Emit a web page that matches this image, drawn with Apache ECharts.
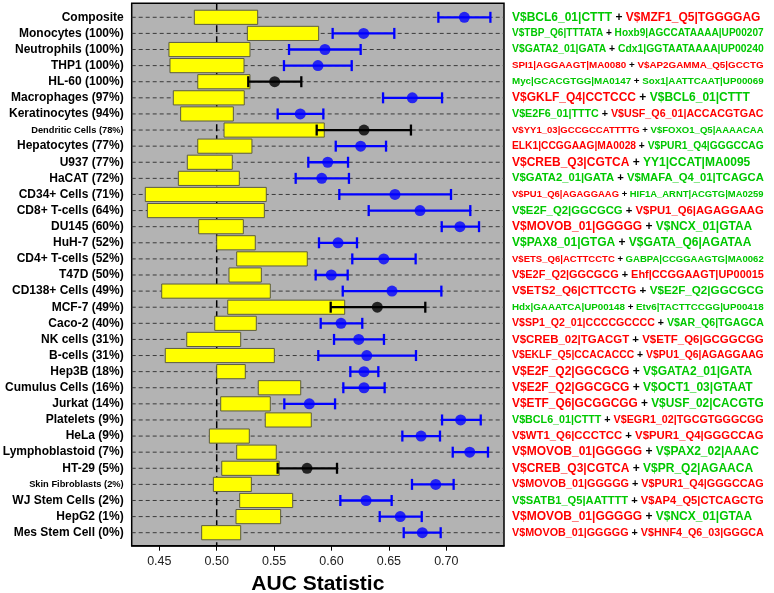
<!DOCTYPE html>
<html>
<head>
<meta charset="utf-8">
<script src="https://cdn.jsdelivr.net/npm/echarts@6/dist/echarts.min.js"></script>
<style>
html,body{margin:0;padding:0;background:#fff;}
#chart{width:774px;height:593px;}
</style>
</head>
<body>
<div id="chart"></div>
<script>
// ---------------- data ----------------
var categories = ["Composite","Monocytes (100%)","Neutrophils (100%)","THP1 (100%)","HL-60 (100%)","Macrophages (97%)","Keratinocytes (94%)","Dendritic Cells (78%)","Hepatocytes (77%)","U937 (77%)","HaCAT (72%)","CD34+ Cells (71%)","CD8+ T-cells (64%)","DU145 (60%)","HuH-7 (52%)","CD4+ T-cells (52%)","T47D (50%)","CD138+ Cells (49%)","MCF-7 (49%)","Caco-2 (40%)","NK cells (31%)","B-cells (31%)","Hep3B (18%)","Cumulus Cells (16%)","Jurkat (14%)","Platelets (9%)","HeLa (9%)","Lymphoblastoid (7%)","HT-29 (5%)","Skin Fibroblasts (2%)","WJ Stem Cells (2%)","HepG2 (1%)","Mes Stem Cell (0%)"];

var boxLow  = [0.4805,0.5267,0.4584,0.4593,0.4835,0.4622,0.4686,0.5064,0.4835,0.4744,0.4666,0.4378,0.4396,0.4843,0.5000,0.5174,0.5107,0.4521,0.5096,0.4983,0.4739,0.4552,0.5000,0.5362,0.5035,0.5423,0.4936,0.5174,0.5044,0.4971,0.5200,0.5168,0.4869];
var boxHigh = [0.5357,0.5888,0.5290,0.5238,0.5290,0.5240,0.5145,0.5937,0.5307,0.5136,0.5197,0.5432,0.5415,0.5232,0.5336,0.5789,0.5389,0.5467,0.6115,0.5345,0.5209,0.5502,0.5249,0.5732,0.5467,0.5824,0.5284,0.5519,0.5545,0.5302,0.5662,0.5557,0.5209];

var aucMean = [0.7157,0.6280,0.5943,0.5882,0.5505,0.6704,0.5728,0.6283,0.6254,0.5967,0.5915,0.6553,0.6771,0.7119,0.6057,0.6455,0.5998,0.6527,0.6399,0.6083,0.6237,0.6307,0.6283,0.6283,0.5807,0.7125,0.6780,0.7204,0.5787,0.6908,0.6301,0.6599,0.6791];
var aucLow  = [0.6931,0.6010,0.5630,0.5586,0.5275,0.6449,0.5531,0.5871,0.6037,0.5798,0.5688,0.6068,0.6324,0.6960,0.5891,0.6181,0.5862,0.6098,0.5993,0.5906,0.6022,0.5885,0.6164,0.6103,0.5589,0.6963,0.6617,0.7056,0.5531,0.6701,0.6077,0.6420,0.6629];
var aucHigh = [0.7384,0.6547,0.6254,0.6176,0.5737,0.6963,0.5929,0.6692,0.6475,0.6144,0.6152,0.7041,0.7209,0.7285,0.6222,0.6733,0.6141,0.6957,0.6817,0.6268,0.6457,0.6736,0.6408,0.6463,0.6031,0.7300,0.6945,0.7363,0.6048,0.7064,0.6524,0.6786,0.6951];

// 1 = interval overlaps the random range (drawn black), 0 = separated (blue)
var overlapFlag = [0,0,0,0,1,0,0,1,0,0,0,0,0,0,0,0,0,0,1,0,0,0,0,0,0,0,0,0,1,0,0,0,0];

var motifA = ["V$BCL6_01|CTTT","V$TBP_Q6|TTTATA","V$GATA2_01|GATA","SPI1|AGGAAGT|MA0080","Myc|GCACGTGG|MA0147","V$GKLF_Q4|CCTCCC","V$E2F6_01|TTTC","V$YY1_03|GCCGCCATTTTG","ELK1|CCGGAAG|MA0028","V$CREB_Q3|CGTCA","V$GATA2_01|GATA","V$PU1_Q6|AGAGGAAG","V$E2F_Q2|GGCGCG","V$MOVOB_01|GGGGG","V$PAX8_01|GTGA","V$ETS_Q6|ACTTCCTC","V$E2F_Q2|GGCGCG","V$ETS2_Q6|CTTCCTG","Hdx|GAAATCA|UP00148","V$SP1_Q2_01|CCCCGCCCC","V$CREB_02|TGACGT","V$EKLF_Q5|CCACACCC","V$E2F_Q2|GGCGCG","V$E2F_Q2|GGCGCG","V$ETF_Q6|GCGGCGG","V$BCL6_01|CTTT","V$WT1_Q6|CCCTCC","V$MOVOB_01|GGGGG","V$CREB_Q3|CGTCA","V$MOVOB_01|GGGGG","V$SATB1_Q5|AATTTT","V$MOVOB_01|GGGGG","V$MOVOB_01|GGGGG"];
var motifAClass = ["g","g","g","r","g","r","g","r","r","r","g","r","g","r","g","r","r","r","g","r","r","r","r","r","r","g","r","r","r","r","g","r","r"];
var motifB = ["V$MZF1_Q5|TGGGGAG","Hoxb9|AGCCATAAAA|UP00207","Cdx1|GGTAATAAAA|UP00240","V$AP2GAMMA_Q5|GCCTG","Sox1|AATTCAAT|UP00069","V$BCL6_01|CTTT","V$USF_Q6_01|ACCACGTGAC","V$FOXO1_Q5|AAAACAA","V$PUR1_Q4|GGGCCAG","YY1|CCAT|MA0095","V$MAFA_Q4_01|TCAGCA","HIF1A_ARNT|ACGTG|MA0259","V$PU1_Q6|AGAGGAAG","V$NCX_01|GTAA","V$GATA_Q6|AGATAA","GABPA|CCGGAAGTG|MA0062","Ehf|CCGGAAGT|UP00015","V$E2F_Q2|GGCGCG","Etv6|TACTTCCGG|UP00418","V$AR_Q6|TGAGCA","V$ETF_Q6|GCGGCGG","V$PU1_Q6|AGAGGAAG","V$GATA2_01|GATA","V$OCT1_03|GTAAT","V$USF_02|CACGTG","V$EGR1_02|TGCGTGGGCGG","V$PUR1_Q4|GGGCCAG","V$PAX2_02|AAAC","V$PR_Q2|AGAACA","V$PUR1_Q4|GGGCCAG","V$AP4_Q5|CTCAGCTG","V$NCX_01|GTAA","V$HNF4_Q6_03|GGGCA"];
var motifBClass = ["r","g","g","r","g","g","r","g","g","g","g","g","r","g","g","g","r","g","g","g","r","r","g","g","g","r","r","g","g","r","r","g","r"];

var xTicks = [0.45,0.50,0.55,0.60,0.65,0.70];
var refAUC = 0.5;
var xMin = 0.42596, xMax = 0.75026;
var yMin = -0.869, yMax = 32.807;

// ---------------- styling ----------------
var FONT = '"Liberation Sans", Arial, Helvetica, sans-serif';
var GREEN = '#00c800', RED = '#ff0000', BLUE = '#0000ff';
var classColor = {g: GREEN, r: RED};

var measureCtx = document.createElement('canvas').getContext('2d');
function textEm(s) {
  measureCtx.font = 'bold 100px ' + FONT;
  return measureCtx.measureText(s).width / 100;
}

var rows = categories.map(function (c, i) { return i; });

var chart = echarts.init(document.getElementById('chart'), null, {renderer: 'canvas'});

var option = {
  backgroundColor: '#ffffff',
  animation: false,
  grid: {
    left: 131.7, top: 3.3, width: 372.3, height: 542.4,
    show: true, backgroundColor: '#b3b3b3', borderColor: '#000', borderWidth: 1.5,
    containLabel: false, outerBoundsMode: 'none'
  },
  xAxis: {
    type: 'value', min: xMin, max: xMax,
    axisLine: {show: true, onZero: false, lineStyle: {color: '#000', width: 1.5}},
    axisTick: {show: true, customValues: xTicks, length: 5, lineStyle: {color: '#000', width: 1}},
    axisLabel: {
      customValues: xTicks, margin: 9.5, color: '#222', fontSize: 12.5, fontFamily: FONT,
      formatter: function (v) { return v.toFixed(2); }
    },
    splitLine: {show: false},
    name: 'AUC Statistic', nameLocation: 'middle', nameGap: 28,
    nameTextStyle: {fontSize: 21, fontWeight: 'bold', color: '#000', fontFamily: FONT}
  },
  yAxis: {
    type: 'value', inverse: true, min: yMin, max: yMax,
    axisLine: {show: false}, axisTick: {show: false}, splitLine: {show: false},
    axisLabel: {
      customValues: rows, margin: 8, color: '#000', fontFamily: FONT,
      formatter: function (v) {
        var name = categories[Math.round(v)];
        return (name.length > 20 ? '{s|' : '{b|') + name + '}';
      },
      rich: {
        b: {fontSize: 12, fontWeight: 'bold', color: '#000', fontFamily: FONT},
        s: {fontSize: 9.3, fontWeight: 'bold', color: '#000', fontFamily: FONT}
      }
    }
  },
  series: [
    { // horizontal dashed guide lines
      type: 'custom', z: 1, silent: true, clip: false,
      data: rows.map(function (i) { return [i]; }),
      encode: {y: 0},
      renderItem: function (params, api) {
        var i = api.value(0);
        var p0 = api.coord([xMin, i]), p1 = api.coord([xMax, i]);
        return {type: 'line', shape: {x1: p0[0], y1: p0[1], x2: p1[0], y2: p1[1]},
          style: {stroke: '#3a3a3a', lineWidth: 1, lineDash: [4, 3]}};
      }
    },
    { // reference line at AUC 0.5
      type: 'custom', z: 2, silent: true, clip: false,
      data: [[refAUC]],
      encode: {x: 0},
      renderItem: function (params, api) {
        var v = api.value(0);
        var p0 = api.coord([v, yMin]), p1 = api.coord([v, yMax]);
        return {type: 'line', shape: {x1: p0[0], y1: p0[1], x2: p1[0], y2: p1[1]},
          style: {stroke: '#000', lineWidth: 1.5, lineDash: [7, 4]}};
      }
    },
    { // yellow range boxes
      type: 'custom', z: 3, silent: true,
      data: rows.map(function (i) { return [boxLow[i], boxHigh[i], i]; }),
      encode: {x: [0, 1], y: 2},
      renderItem: function (params, api) {
        var lo = api.coord([api.value(0), api.value(2)]);
        var hi = api.coord([api.value(1), api.value(2)]);
        var h = api.size([0, 1])[1] * 0.88;
        return {type: 'rect', shape: {x: lo[0], y: lo[1] - h / 2, width: hi[0] - lo[0], height: h},
          style: {fill: '#ffff00', stroke: '#5c5c40', lineWidth: 1}};
      }
    },
    { // error bars
      type: 'custom', z: 4, silent: true,
      data: rows.map(function (i) { return [aucLow[i], aucHigh[i], i, overlapFlag[i]]; }),
      encode: {x: [0, 1], y: 2},
      renderItem: function (params, api) {
        var lo = api.coord([api.value(0), api.value(2)]);
        var hi = api.coord([api.value(1), api.value(2)]);
        var col = api.value(3) ? '#000' : BLUE;
        var c = 5.5;
        var st = {stroke: col, lineWidth: 2.3};
        return {type: 'group', children: [
          {type: 'line', shape: {x1: lo[0], y1: lo[1], x2: hi[0], y2: hi[1]}, style: st},
          {type: 'line', shape: {x1: lo[0], y1: lo[1] - c, x2: lo[0], y2: lo[1] + c}, style: st},
          {type: 'line', shape: {x1: hi[0], y1: hi[1] - c, x2: hi[0], y2: hi[1] + c}, style: st}
        ]};
      }
    },
    { // mean AUC points
      type: 'scatter', z: 5, silent: true, symbol: 'circle', symbolSize: 11,
      data: rows.map(function (i) {
        return {value: [aucMean[i], i], itemStyle: {color: overlapFlag[i] ? '#000' : BLUE}};
      })
    },
    { // motif pair annotations
      type: 'custom', z: 5, silent: true, clip: false,
      data: rows.map(function (i) { return [xMax, i]; }),
      encode: {x: 0, y: 1},
      renderItem: function (params, api) {
        var i = params.dataIndex;
        var p = api.coord([api.value(0), api.value(1)]);
        var full = motifA[i] + ' + ' + motifB[i];
        var fs = Math.min(12, 252 / textEm(full));
        var base = {fontSize: fs, fontWeight: 'bold', fontFamily: FONT};
        return {type: 'text', x: p[0] + 8, y: p[1], style: {
          text: '{a|' + motifA[i] + '}{k| + }{b|' + motifB[i] + '}',
          verticalAlign: 'middle', align: 'left',
          fontSize: fs, fontWeight: 'bold', fontFamily: FONT,
          rich: {
            a: Object.assign({fill: classColor[motifAClass[i]]}, base),
            k: Object.assign({fill: '#000'}, base),
            b: Object.assign({fill: classColor[motifBClass[i]]}, base)
          }
        }};
      }
    }
  ]
};
chart.setOption(option);
</script>
</body>
</html>
